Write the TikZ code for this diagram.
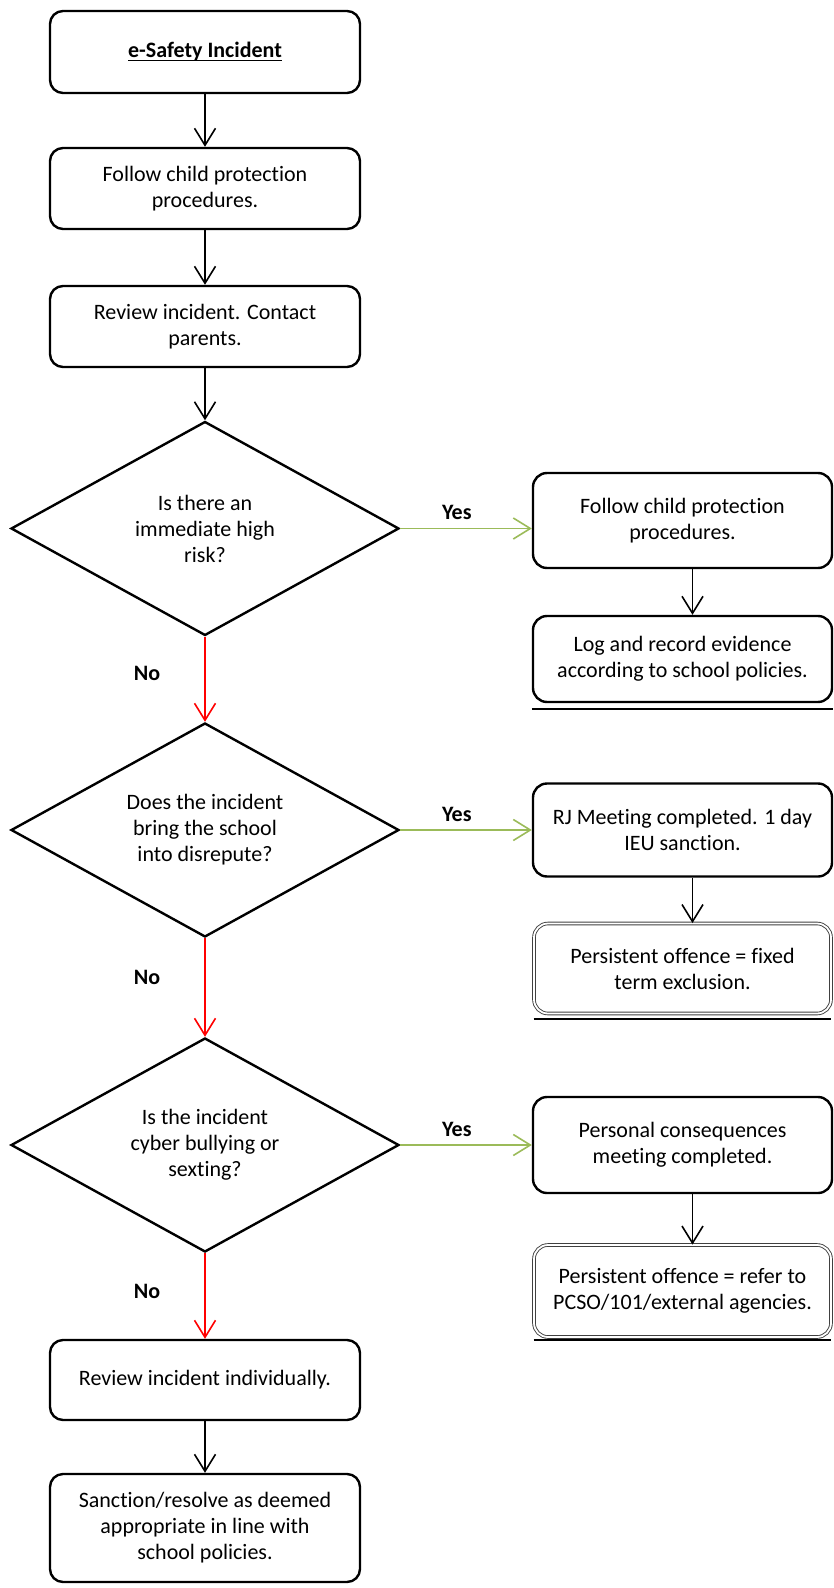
\documentclass[tikz,border=0pt]{standalone}
\usepackage{fontspec}
\setmainfont[Ligatures=NoCommon]{Carlito}
\usepackage{xcolor}
\usepackage{tikz}
\usetikzlibrary{shapes,arrows.meta,positioning,calc}

\definecolor{yesgreen}{RGB}{155,187,89}
\definecolor{nored}{RGB}{255,0,0}

% underline sitting close to the baseline
\newcommand\titleul[1]{\setbox0\hbox{#1}\rlap{\rule[-1.7pt]{\wd0}{0.7pt}}\box0}

\begin{document}
\begin{tikzpicture}[
    x=1pt, y=1pt, on grid,
    font=\fontsize{11}{13}\selectfont,
    box/.style={rectangle, draw, line width=1.2pt, rounded corners=6.5pt, minimum width=155pt, align=center},
    rbox/.style={rectangle, draw, line width=1.2pt, rounded corners=7pt, minimum width=149.5pt, align=center},
    dblbox/.style={rectangle, draw=black!75, double=white, double distance=0.9pt, line width=0.45pt, rounded corners=7pt, minimum width=148.5pt, align=center},
    decision/.style={diamond, draw, line width=1.2pt, aspect=1.83, inner sep=0pt, minimum width=194pt, minimum height=107pt, align=center},
    arrow/.style={-{Straight Barb[length=8.5pt, width=10.5pt]}, line width=0.8pt},
    yesarrow/.style={arrow, yesgreen},
    noarrow/.style={arrow, nored},
    answer/.style={font=\fontsize{11}{13}\selectfont\bfseries, text=black, inner sep=0pt},
    rule/.style={line width=1pt}
]
\useasboundingbox (0,0) rectangle (417,-794);

% Main column
\node[box, minimum height=41pt] (incident) at (102.5,-26) {\titleul{\textbf{e-Safety Incident}}};
\node[box, minimum height=40.5pt, below=68.25pt of incident] (protect) {Follow child protection\\procedures.};
\node[box, minimum height=40.5pt, below=69pt of protect] (review) {Review incident. Contact\\parents.};

\draw[arrow] (incident) -- (protect);
\draw[arrow] (protect) -- (review);

% Decisions
\node[decision, below=101pt of review] (risk) {Is there an\\immediate high\\risk?};
\node[decision, below=150.75pt of risk] (repute) {Does the incident\\bring the school\\into disrepute?};
\node[decision, below=157.5pt of repute] (bully) {Is the incident\\cyber bullying or\\sexting?};

\draw[arrow] (review) -- (risk);
\draw[noarrow] (risk) -- node[answer, pos=0.43, left=22pt, on grid=false] {No} (repute);
\draw[noarrow] (repute) -- node[answer, pos=0.4, left=22pt, on grid=false] {No} (bully);

% Fall-through
\node[box, minimum height=40pt, below=117.5pt of bully] (individual) {Review incident individually.};
\node[box, minimum height=54pt, below=74pt of individual] (sanction) {Sanction/resolve as deemed\\appropriate in line with\\school policies.};

\draw[noarrow] (bully) -- node[answer, pos=0.45, left=22pt, on grid=false] {No} (individual);
\draw[arrow] (individual) -- (sanction);

% Yes branches
\node[rbox, minimum height=47.5pt, right=238.75pt of risk, yshift=4pt] (cpp) {Follow child protection\\procedures.};
\node[rbox, minimum height=43pt, below=69.25pt of cpp] (evidence) {Log and record evidence\\according to school policies.};

\node[rbox, minimum height=46.5pt, right=238.75pt of repute] (rj) {RJ Meeting completed. 1 day\\IEU sanction.};
\node[dblbox, minimum height=45pt, below=69.25pt of rj] (fixed) {Persistent offence = fixed\\term exclusion.};

\node[rbox, minimum height=48pt, right=238.75pt of bully] (personal) {Personal consequences\\meeting completed.};
\node[dblbox, minimum height=46pt, below=73pt of personal] (agencies) {Persistent offence = refer to\\PCSO/101/external agencies.};

\draw[yesarrow] (risk.east) -- node[answer, pos=0.43, above=4pt, on grid=false] {Yes} (risk.east -| cpp.west);
\draw[yesarrow] (repute.east) -- node[answer, pos=0.43, above=4pt, on grid=false] {Yes} (repute.east -| rj.west);
\draw[yesarrow] (bully.east) -- node[answer, pos=0.43, above=4pt, on grid=false] {Yes} (bully.east -| personal.west);

\draw[arrow] ([xshift=5pt]cpp.south) -- ([xshift=5pt]evidence.north);
\draw[arrow] ([xshift=5pt]rj.south) -- ([xshift=5pt]fixed.north);
\draw[arrow] ([xshift=5pt]personal.south) -- ([xshift=5pt]agencies.north);

% Rules under the outcomes
\draw[rule] ([yshift=-3pt]evidence.south west) -- ([yshift=-3pt]evidence.south east);
\draw[rule] ([yshift=-2.5pt]fixed.south west) -- ([yshift=-2.5pt]fixed.south east);
\draw[rule] ([yshift=-1.5pt]agencies.south west) -- ([yshift=-1.5pt]agencies.south east);

\end{tikzpicture}
\end{document}
